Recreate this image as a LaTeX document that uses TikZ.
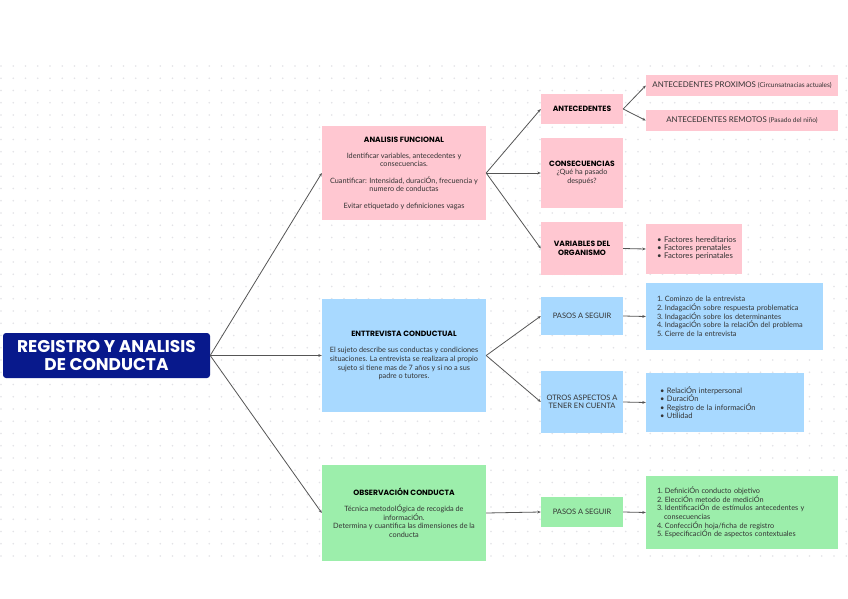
\documentclass[tikz,border=0pt]{standalone}
\usepackage{fontspec}
\setmainfont{Lato}
\newfontfamily\headfont{Poppins}
\usetikzlibrary{arrows.meta}
\setlength{\lineskiplimit}{-20pt}
\definecolor{pinkc}{HTML}{FFC7D1}
\definecolor{bluec}{HTML}{A8D9FF}
\definecolor{greenc}{HTML}{9CEEAB}
\definecolor{navyc}{HTML}{08198C}
\definecolor{dotc}{HTML}{E2E2E6}
\definecolor{linec}{HTML}{555555}
\definecolor{txtc}{HTML}{333333}
\tikzset{
  box/.style={inner sep=1pt, align=center, text=txtc, font=\fontsize{7.3}{8.6}\selectfont},
  pinkbox/.style={box, fill=pinkc},
  bluebox/.style={box, fill=bluec},
  greenbox/.style={box, fill=greenc},
  smallbox/.style={font=\fontsize{7.5}{8.6}\selectfont},
  listbox/.style={align=left, inner xsep=11pt},
  conn/.style={draw=linec, line width=0.8pt, -{Stealth[length=3.5pt,width=2.8pt]}},
}
\newcommand{\hd}[1]{{\headfont\bfseries\color{black}\fontsize{7.6}{8.6}\selectfont#1}}
\newcommand{\lst}[1]{{\renewcommand\arraystretch{0.93}\begin{tabular}{@{}l@{}}#1\end{tabular}}}
\newcommand{\nm}[1]{#1.\hspace{1.8pt}}
\begin{document}
\begin{tikzpicture}[x=1pt,y=-1pt]
\useasboundingbox (0,0) rectangle (848,599);
\fill[white] (0,0) rectangle (848,599);
\foreach \i in {0,...,69} {\foreach \j in {0,...,40} {\fill[dotc] (\i*12.25+1,66+\j*12.25) circle (0.8);}}
% main
\node[fill=navyc, rounded corners=3pt, minimum width=207, minimum height=45, align=center, text=white,
  font=\headfont\fontsize{17}{18.5}\selectfont\bfseries, inner sep=0pt] (main) at (106.5,355.5) {REGISTRO Y ANALISIS\\DE CONDUCTA};
% middle
\node[pinkbox, minimum width=164, minimum height=94] (af) at (404,173)
 {\hd{ANALISIS FUNCIONAL}\\[7.5pt]
  Identificar variables, antecedentes y\\consecuencias.\\[8pt]
  Cuantificar: Intensidad, duraciÓn, frecuencia y\\numero de conductas\\[7.5pt]
  Evitar etiquetado y definiciones vagas};
\node[bluebox, minimum width=164, minimum height=113] (ent) at (404,355.5)
 {\hd{ENTTREVISTA CONDUCTUAL}\\[8pt]
  El sujeto describe sus conductas y condiciones\\
  situaciones. La entrevista se realizara al propio\\
  sujeto si tiene mas de 7 años y si no a sus\\
  padre o tutores.};
\node[greenbox, minimum width=164, minimum height=96] (obs) at (404,513)
 {\hd{OBSERVACIÓN CONDUCTA}\\[7pt]
  Técnica metodolÓgica de recogida de\\
  informaciÓn.\\
  Determina y cuantifica las dimensiones de la\\
  conducta};
% second level
\node[pinkbox, minimum width=82, minimum height=30] (ant) at (582,109) {\hd{ANTECEDENTES}};
\node[pinkbox, minimum width=82, minimum height=70] (cons) at (582,173)
 {\hd{CONSECUENCIAS}\\[-1pt]¿Qué ha pasado\\después?};
\node[pinkbox, minimum width=82, minimum height=53] (var) at (582,248.5) {\hd{VARIABLES DEL}\\\hd{ORGANISMO}};
\node[bluebox, smallbox, minimum width=82, minimum height=38] (p1) at (582,316) {PASOS A SEGUIR};
\node[bluebox, smallbox, minimum width=82, minimum height=62] (otros) at (582,402) {OTROS ASPECTOS A\\TENER EN CUENTA};
\node[greenbox, smallbox, minimum width=82, minimum height=30] (p2) at (582,512) {PASOS A SEGUIR};
% leaves
\node[pinkbox, minimum width=192, minimum height=21, font=\fontsize{7.9}{8.6}\selectfont] (prox) at (742,85.5)
 {ANTECEDENTES PROXIMOS {\fontsize{6.6}{7}\selectfont(Circunsatnacias actuales)}};
\node[pinkbox, minimum width=192, minimum height=21, font=\fontsize{7.9}{8.6}\selectfont] (rem) at (742,120.5)
 {ANTECEDENTES REMOTOS {\fontsize{6.6}{7}\selectfont(Pasado del niño)}};
\node[pinkbox, listbox, text width=74, minimum height=50, font=\fontsize{7.8}{8.8}\selectfont] (fac) at (694,249)
 {\lst{• Factores hereditarios\\• Factores prenatales\\• Factores perinatales}};
\node[bluebox, listbox, text width=155, minimum height=67] (l1) at (734.5,316.5)
 {\nm1Cominzo de la entrevista\\\nm2IndagaciÓn sobre respuesta problematica\\\nm3IndagaciÓn sobre los determinantes\\\nm4IndagaciÓn sobre la relaciÓn del problema\\\nm5Cierre de la entrevista};
\node[bluebox, listbox, inner xsep=14pt, text width=130, minimum height=59, font=\fontsize{7.5}{8.6}\selectfont] (l2) at (725,402.5)
 {• RelaciÓn interpersonal\\• DuraciÓn\\• Registro de la informaciÓn\\• Utilidad};
\node[greenbox, listbox, text width=170, minimum height=73] (l3) at (742,512.5)
 {\nm1DefiniciÓn conducto objetivo\\\nm2ElecciÓn metodo de mediciÓn\\\nm3IdentificaciÓn de estímulos antecedentes y\\\hspace*{7pt}consecuencias\\\nm4ConfecciÓn hoja/ficha de registro\\\nm5EspecificaciÓn de aspectos contextuales};
% connectors
\draw[conn] (main.east) -- (af.west);
\draw[conn] (main.east) -- (ent.west);
\draw[conn] (main.east) -- (obs.west);
\draw[conn] (af.east) -- (ant.west);
\draw[conn] (af.east) -- (cons.west);
\draw[conn] (af.east) -- (var.west);
\draw[conn] (ant.east) -- (prox.west);
\draw[conn] (ant.east) -- (rem.west);
\draw[conn] (var.east) -- (fac.west);
\draw[conn] (ent.east) -- (p1.west);
\draw[conn] (ent.east) -- (otros.west);
\draw[conn] (p1.east) -- (l1.west);
\draw[conn] (otros.east) -- (l2.west);
\draw[conn] (obs.east) -- (p2.west);
\draw[conn] (p2.east) -- (l3.west);
\end{tikzpicture}
\end{document}
